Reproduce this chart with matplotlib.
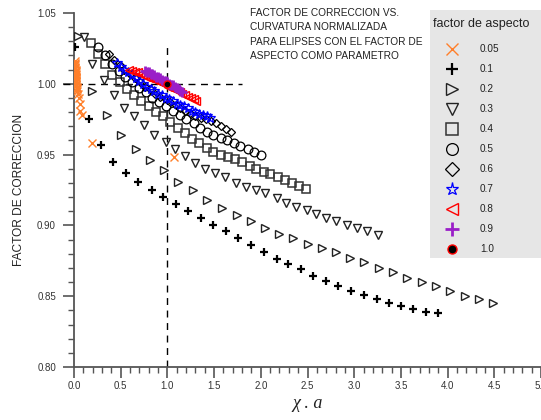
import matplotlib
matplotlib.use("Agg")
import matplotlib.pyplot as plt
from matplotlib.lines import Line2D
from matplotlib.patches import Rectangle
from matplotlib.ticker import MultipleLocator, FormatStrFormatter

plt.rcParams['font.family'] = ['Liberation Sans', 'DejaVu Sans']

# ---------------- data ----------------
labels = ["0.05", "0.1", "0.2", "0.3", "0.4", "0.5", "0.6", "0.7", "0.8", "0.9", "1.0"]

x_005 = [0.014, 0.014, 0.015, 0.015, 0.016, 0.016, 0.017, 0.017, 0.018, 0.018, 0.019, 0.019,
         0.020, 0.021, 0.022, 0.023, 0.024, 0.026, 0.028, 0.030, 0.033, 0.036, 0.040, 0.050,
         0.060, 0.065, 0.090, 0.190, 1.070]
y_005 = [1.016, 1.015, 1.014, 1.013, 1.012, 1.011, 1.010, 1.009, 1.008, 1.007, 1.006, 1.005,
         1.004, 1.003, 1.002, 1.001, 1.000, 0.999, 0.998, 0.997, 0.996, 0.995, 0.993, 0.990,
         0.986, 0.981, 0.978, 0.958, 0.948]

x_01 = [0.01, 0.16, 0.29, 0.42, 0.56, 0.69, 0.83, 0.95, 1.09, 1.22, 1.36, 1.49, 1.63, 1.76, 1.90,
        2.03, 2.17, 2.29, 2.43, 2.56, 2.70, 2.83, 2.97, 3.10, 3.24, 3.37, 3.50, 3.63, 3.77, 3.90]
y_01 = [1.026, 0.975, 0.957, 0.945, 0.937, 0.931, 0.925, 0.920, 0.915, 0.910, 0.905, 0.900,
        0.896, 0.891, 0.886, 0.881, 0.876, 0.873, 0.869, 0.864, 0.861, 0.857, 0.854, 0.851,
        0.848, 0.845, 0.843, 0.841, 0.839, 0.838]

x_02 = [0.04, 0.19, 0.35, 0.50, 0.66, 0.81, 0.96, 1.11, 1.27, 1.42, 1.58, 1.74, 1.89, 2.04, 2.19,
        2.35, 2.50, 2.66, 2.81, 2.96, 3.11, 3.27, 3.42, 3.57, 3.73, 3.88, 4.03, 4.19, 4.34, 4.49]
y_02 = [1.034, 0.995, 0.978, 0.964, 0.954, 0.946, 0.939, 0.931, 0.925, 0.918, 0.912, 0.907,
        0.903, 0.898, 0.894, 0.891, 0.887, 0.884, 0.881, 0.877, 0.874, 0.870, 0.867, 0.863,
        0.860, 0.857, 0.854, 0.850, 0.848, 0.845]

x_03 = [0.11, 0.19, 0.32, 0.43, 0.54, 0.64, 0.75, 0.86, 0.98, 1.08, 1.19, 1.30, 1.40, 1.51, 1.62,
        1.73, 1.84, 1.95, 2.05, 2.17, 2.27, 2.38, 2.49, 2.59, 2.70, 2.81, 2.92, 3.03, 3.14, 3.25]
y_03 = [1.033, 1.014, 1.003, 0.992, 0.983, 0.977, 0.971, 0.964, 0.959, 0.954, 0.949, 0.944,
        0.940, 0.937, 0.934, 0.930, 0.927, 0.925, 0.923, 0.919, 0.916, 0.913, 0.911, 0.908,
        0.905, 0.903, 0.900, 0.898, 0.896, 0.893]

x_04 = [0.18, 0.26, 0.33, 0.41, 0.49, 0.57, 0.64, 0.72, 0.80, 0.88, 0.95, 1.03, 1.11, 1.19, 1.26,
        1.34, 1.42, 1.49, 1.57, 1.65, 1.72, 1.80, 1.88, 1.95, 2.03, 2.10, 2.18, 2.26, 2.33, 2.41, 2.48]
y_04 = [1.029, 1.021, 1.014, 1.006, 1.001, 0.996, 0.992, 0.988, 0.984, 0.980, 0.977, 0.973,
        0.969, 0.965, 0.961, 0.958, 0.955, 0.952, 0.950, 0.948, 0.947, 0.945, 0.942, 0.940,
        0.938, 0.936, 0.934, 0.932, 0.930, 0.928, 0.926]

x_05 = [0.26, 0.33, 0.41, 0.48, 0.55, 0.62, 0.70, 0.77, 0.84, 0.91, 0.99, 1.06, 1.13, 1.20, 1.28,
        1.35, 1.42, 1.49, 1.57, 1.64, 1.71, 1.78, 1.86, 1.93, 2.00]
y_05 = [1.026, 1.020, 1.014, 1.009, 1.005, 1.001, 0.997, 0.994, 0.990, 0.987, 0.984, 0.981,
        0.978, 0.975, 0.972, 0.969, 0.966, 0.964, 0.962, 0.960, 0.958, 0.956, 0.954, 0.952, 0.950]

x_06 = [0.38, 0.43, 0.49, 0.54, 0.60, 0.65, 0.71, 0.76, 0.81, 0.87, 0.92, 0.98, 1.03, 1.09, 1.14,
        1.19, 1.25, 1.30, 1.36, 1.41, 1.47, 1.52, 1.57, 1.63, 1.68]
y_06 = [1.021, 1.017, 1.013, 1.010, 1.007, 1.004, 1.001, 0.998, 0.996, 0.993, 0.991, 0.989,
        0.987, 0.985, 0.983, 0.981, 0.979, 0.977, 0.976, 0.975, 0.974, 0.972, 0.970, 0.968, 0.966]

x_07 = [0.46, 0.50, 0.54, 0.58, 0.62, 0.66, 0.70, 0.74, 0.78, 0.82, 0.86, 0.90, 0.94, 0.98, 1.02,
        1.06, 1.10, 1.14, 1.18, 1.22, 1.26, 1.30, 1.34, 1.38, 1.42, 1.46]
y_07 = [1.015, 1.012, 1.010, 1.008, 1.006, 1.004, 1.002, 1.000, 0.998, 0.996, 0.995, 0.993,
        0.992, 0.990, 0.989, 0.988, 0.986, 0.985, 0.984, 0.983, 0.981, 0.980, 0.979, 0.978,
        0.977, 0.976]

x_08 = [0.59, 0.62, 0.65, 0.68, 0.71, 0.74, 0.77, 0.80, 0.83, 0.86, 0.89, 0.92, 0.95, 0.98, 1.01,
        1.04, 1.07, 1.10, 1.13, 1.16, 1.19, 1.22, 1.25, 1.28, 1.31]
y_08 = [1.010, 1.009, 1.008, 1.008, 1.007, 1.006, 1.005, 1.004, 1.004, 1.003, 1.002, 1.001,
        1.000, 0.999, 0.998, 0.997, 0.996, 0.995, 0.994, 0.993, 0.992, 0.991, 0.990, 0.989, 0.988]

x_09 = [0.76, 0.78, 0.80, 0.82, 0.84, 0.86, 0.88, 0.90, 0.92, 0.94, 0.96, 0.98, 1.00, 1.02, 1.04,
        1.06, 1.08, 1.10, 1.12, 1.14, 1.16]
y_09 = [1.009, 1.008, 1.008, 1.007, 1.007, 1.006, 1.005, 1.005, 1.004, 1.003, 1.002, 1.002,
        1.001, 1.000, 0.999, 0.999, 0.998, 0.997, 0.996, 0.995, 0.994]

x_10 = [1.00]
y_10 = [1.00]

# ---------------- styles ----------------
orange = '#ff7f2a'
purple = '#9a1fc8'
styles = [
    dict(marker='x', color=orange, mfc='none', mec=orange, mew=1.0, ms=6),
    dict(marker='+', color='black', mfc='none', mec='black', mew=1.6, ms=6),
    dict(marker='>', color='#222222', mfc='none', mec='#222222', mew=1.0, ms=5.5),
    dict(marker='v', color='#222222', mfc='none', mec='#222222', mew=1.0, ms=5.5),
    dict(marker='s', color='#333333', mfc='none', mec='#333333', mew=1.1, ms=6),
    dict(marker='o', color='black', mfc='none', mec='black', mew=0.9, ms=6.3),
    dict(marker='D', color='black', mfc='none', mec='black', mew=0.9, ms=4.5),
    dict(marker='*', color='blue', mfc='none', mec='blue', mew=0.9, ms=7.5),
    dict(marker='<', color='red', mfc='none', mec='red', mew=1.0, ms=6),
    dict(marker='+', color=purple, mfc='none', mec=purple, mew=2.0, ms=7.5),
    dict(marker='o', color='black', mfc='black', mec='red', mew=1.0, ms=5),
]
legend_ms = [8.5, 9, 8.5, 8.5, 8.5, 8.5, 7, 9.5, 8.5, 10, 6.5]
series = [(x_005, y_005), (x_01, y_01), (x_02, y_02), (x_03, y_03), (x_04, y_04),
          (x_05, y_05), (x_06, y_06), (x_07, y_07), (x_08, y_08), (x_09, y_09), (x_10, y_10)]

fig = plt.figure(figsize=(5.41, 4.20), dpi=100)
ax = fig.add_axes([74 / 541, 1 - 367 / 420, 1 - 74 / 541, (367 - 13) / 420])

for (xs, ys), st in zip(series, styles):
    ax.plot(xs, ys, linestyle='none', **st, zorder=3)

# dashed reference lines
ax.plot([1.0, 1.0], [0.80, 1.027], color='black', lw=1.0, dashes=(5, 4), zorder=2)
ax.plot([-0.12, 1.80], [1.0, 1.0], color='black', lw=1.0, dashes=(5, 4), zorder=2, clip_on=False)

ax.set_xlim(0, 5)
ax.set_ylim(0.80, 1.05)
ax.spines['top'].set_visible(False)
ax.spines['right'].set_visible(False)
for s in ('left', 'bottom'):
    ax.spines[s].set_color('#555555')
    ax.spines[s].set_linewidth(1.3)

ax.xaxis.set_major_locator(MultipleLocator(0.5))
ax.xaxis.set_minor_locator(MultipleLocator(0.1))
ax.yaxis.set_major_locator(MultipleLocator(0.05))
ax.yaxis.set_minor_locator(MultipleLocator(0.01))
ax.xaxis.set_major_formatter(FormatStrFormatter('%.1f'))
ax.yaxis.set_major_formatter(FormatStrFormatter('%.2f'))
ax.tick_params(which='major', direction='out', length=8, width=1.2, color='#555555',
               labelsize=7, labelcolor='#333333')
ax.tick_params(which='minor', direction='out', length=4.3, width=1.0, color='#555555')
ax.tick_params(axis='x', which='major', pad=2)
ax.tick_params(axis='y', which='major', pad=5)

ax.set_ylabel('FACTOR DE CORRECCION', fontsize=8.6, color='#222222', labelpad=9)
ax.set_xlabel('χ . a', fontsize=13, color='#222222', labelpad=3,
              fontfamily=['Liberation Serif', 'DejaVu Serif'], fontstyle='italic')

# annotation text
fig.text(250 / 541, 1 - 8 / 420,
         'FACTOR DE CORRECCION VS.\nCURVATURA NORMALIZADA\nPARA ELIPSES CON EL FACTOR DE\nASPECTO COMO PARAMETRO',
         ha='left', va='top', fontsize=7.3, color='#222222', linespacing=1.55)

# legend panel
fig.add_artist(Rectangle((430 / 541, 1 - 258 / 420), 111 / 541, 248 / 420,
                         transform=fig.transFigure, facecolor='#e6e6e6', edgecolor='none', zorder=5))
fig.text(433 / 541, 1 - 24 / 420, 'factor de aspecto', ha='left', va='center',
         fontsize=9, color='#222222', zorder=6)
for i, (lab, st) in enumerate(zip(labels, styles)):
    yy = 1 - (49 + 20 * i) / 420
    st2 = dict(st)
    st2['ms'] = legend_ms[i]
    fig.add_artist(Line2D([452 / 541], [yy], transform=fig.transFigure, linestyle='none',
                          zorder=6, **st2))
    fig.text(480 / 541, yy, lab, ha='left', va='center', fontsize=7.2, color='#222222', zorder=6)

fig.savefig('out.png', dpi=100)
